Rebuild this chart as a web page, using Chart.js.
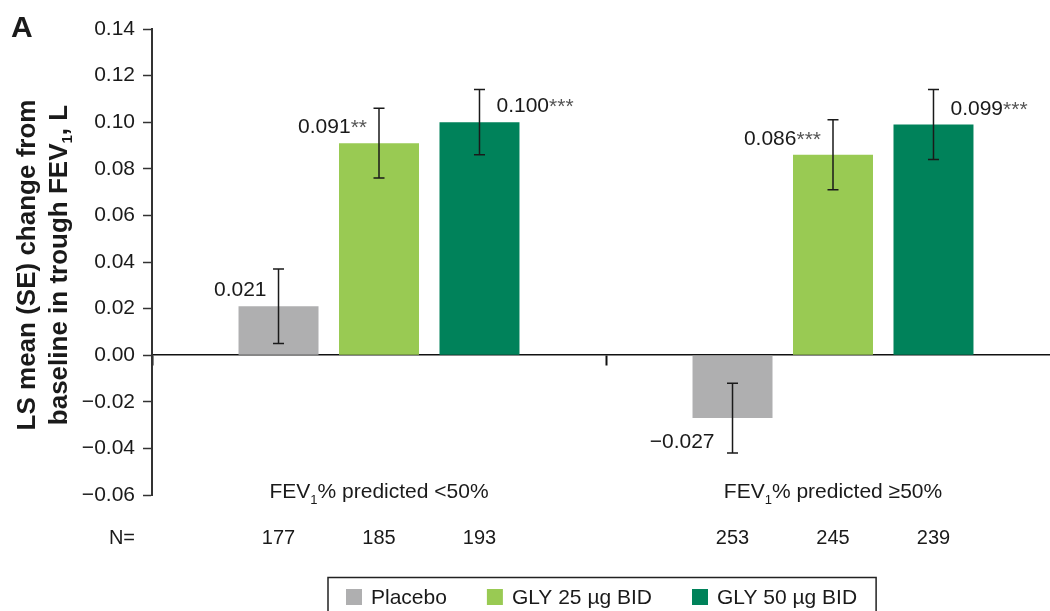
<!DOCTYPE html>
<html>
<head>
<meta charset="utf-8">
<script src="https://cdn.jsdelivr.net/npm/chart.js@4/dist/chart.umd.min.js"></script>
<style>
  html, body { margin: 0; padding: 0; background: #fff; overflow: hidden; width: 1050px; height: 611px; }
  #wrap { position: absolute; left: 0; top: 0; width: 1062px; height: 611px; }
</style>
</head>
<body>
<div id="wrap"><canvas id="c" width="1062" height="611"></canvas></div>
<script>
const FONT = "'Liberation Sans', Arial, Helvetica, sans-serif";
const INK = '#1a1a1a';

// Subgroups: [main text, subscript, rest]
const categories = [['FEV', '1', '% predicted <50%'], ['FEV', '1', '% predicted \u226550%']];

const seriesNames = ['Placebo', 'GLY 25 \u00b5g BID', 'GLY 50 \u00b5g BID'];
const seriesColors = ['#afafb0', '#99ca53', '#00825a'];

// LS mean change from baseline in trough FEV1 (L)
const placebo = [0.021, -0.027];
const gly25 = [0.091, 0.086];
const gly50 = [0.100, 0.099];

// Standard errors
const placeboSE = [0.016, 0.015];
const gly25SE = [0.015, 0.015];
const gly50SE = [0.014, 0.015];

// Significance markers vs placebo
const placeboSig = ['', ''];
const gly25Sig = ['**', '***'];
const gly50Sig = ['***', '***'];

// Patients per arm
const placeboN = [177, 253];
const gly25N = [185, 245];
const gly50N = [193, 239];

const yTickValues = [-0.06, -0.04, -0.02, 0.00, 0.02, 0.04, 0.06, 0.08, 0.10, 0.12, 0.14];

const minus = '\u2212';
const fmtTick = v => (v < -1e-9 ? minus : '') + Math.abs(v).toFixed(2);
const fmtVal = v => (v < 0 ? minus : '') + Math.abs(v).toFixed(3);

function font(size, bold) { return (bold ? 'bold ' : '') + size + 'px ' + FONT; }

// Draws text made of [main, subscript, rest] parts starting at x (baseline y)
function drawSubText(ctx, parts, x, y, size, subSize, subDrop, bold) {
  ctx.textAlign = 'left';
  ctx.textBaseline = 'alphabetic';
  ctx.font = font(size, bold);
  ctx.fillText(parts[0], x, y);
  x += ctx.measureText(parts[0]).width;
  ctx.font = font(subSize, bold);
  ctx.fillText(parts[1], x, y + subDrop);
  x += ctx.measureText(parts[1]).width;
  ctx.font = font(size, bold);
  ctx.fillText(parts[2], x, y);
}
function subTextWidth(ctx, parts, size, subSize, bold) {
  ctx.font = font(size, bold);
  let w = ctx.measureText(parts[0]).width + ctx.measureText(parts[2]).width;
  ctx.font = font(subSize, bold);
  return w + ctx.measureText(parts[1]).width;
}

const decor = {
  id: 'decor',
  afterDatasetsDraw(chart) {
    const ctx = chart.ctx;
    const y = chart.scales.y;
    const last = chart.data.datasets.length - 1;
    chart.data.datasets.forEach((ds, di) => {
      const meta = chart.getDatasetMeta(di);
      meta.data.forEach((bar, i) => {
        const v = ds.data[i];
        const se = ds.se[i];
        const yt = y.getPixelForValue(v + se);
        const yb = y.getPixelForValue(v - se);
        // error bar
        ctx.save();
        ctx.strokeStyle = INK;
        ctx.lineWidth = 1.5;
        ctx.beginPath();
        ctx.moveTo(bar.x, yt); ctx.lineTo(bar.x, yb);
        ctx.moveTo(bar.x - 5.5, yt); ctx.lineTo(bar.x + 5.5, yt);
        ctx.moveTo(bar.x - 5.5, yb); ctx.lineTo(bar.x + 5.5, yb);
        ctx.stroke();
        ctx.restore();

        // value label with significance marker
        const txt = fmtVal(v);
        const sig = ds.sig[i];
        ctx.save();
        ctx.textBaseline = 'alphabetic';
        ctx.textAlign = 'left';
        ctx.font = font(21);
        const wTxt = ctx.measureText(txt).width;
        ctx.font = font(21);
        const wSig = sig ? ctx.measureText(sig).width : 0;
        const base = v >= 0 ? bar.y - 10 : bar.y + 30;
        let x0;
        if (di === last) x0 = bar.x + 17;
        else x0 = bar.x - (v >= 0 ? 12 : 18) - wTxt - wSig;
        ctx.fillStyle = INK;
        ctx.font = font(21);
        ctx.fillText(txt, x0, base);
        if (sig) {
          ctx.fillStyle = '#555';
          ctx.fillText(sig, x0 + wTxt, base + 1);
        }
        ctx.restore();
      });
    });
  },
  afterDraw(chart) {
    const ctx = chart.ctx;
    const xs = chart.scales.x;
    const area = chart.chartArea;
    ctx.save();
    ctx.fillStyle = INK;

    // panel letter
    ctx.font = font(30, true);
    ctx.textAlign = 'left';
    ctx.textBaseline = 'alphabetic';
    ctx.fillText('A', 11, 37);

    // y-axis title (two rotated lines)
    const cy = 265;
    ctx.save();
    ctx.translate(35, cy);
    ctx.rotate(-Math.PI / 2);
    ctx.font = font(26, true);
    ctx.textAlign = 'center';
    ctx.fillText('LS mean (SE) change from', 0, 0);
    ctx.restore();

    ctx.save();
    ctx.translate(67, cy);
    ctx.rotate(-Math.PI / 2);
    const l2 = ['baseline in trough FEV', '1', ', L'];
    const w2 = subTextWidth(ctx, l2, 26, 15, true);
    drawSubText(ctx, l2, -w2 / 2, 0, 26, 15, 5, true);
    ctx.restore();

    // category labels under the plot
    categories.forEach((parts, i) => {
      const cx = xs.getPixelForValue(i);
      const w = subTextWidth(ctx, parts, 21, 13, false);
      drawSubText(ctx, parts, cx - w / 2, 498, 21, 13, 6, false);
    });

    // patient counts row
    ctx.font = font(20);
    ctx.textAlign = 'right';
    ctx.fillText('N=', 135, 544);
    ctx.textAlign = 'center';
    chart.data.datasets.forEach((ds, di) => {
      chart.getDatasetMeta(di).data.forEach((bar, i) => {
        ctx.fillText(String(ds.n[i]), bar.x, 544);
      });
    });

    // legend
    ctx.font = font(21);
    ctx.textAlign = 'left';
    ctx.textBaseline = 'middle';
    let lx = 346;
    const ly = 597;
    chart.data.datasets.forEach((ds, di) => {
      ctx.fillStyle = ds.backgroundColor;
      ctx.fillRect(lx, ly - 8, 16, 16);
      ctx.fillStyle = INK;
      ctx.fillText(ds.label, lx + 25, ly + 1);
      lx += 25 + ctx.measureText(ds.label).width + 40;
    });
    const boxRight = lx - 40 + 19;
    ctx.strokeStyle = '#222';
    ctx.lineWidth = 1.5;
    ctx.strokeRect(328, 577.5, boxRight - 328, 60);

    ctx.restore();
  }
};

const chart = new Chart(document.getElementById('c'), {
  type: 'bar',
  data: {
    labels: categories.map(p => p.join('')),
    datasets: [
      { label: seriesNames[0], data: placebo, se: placeboSE, sig: placeboSig, n: placeboN, backgroundColor: seriesColors[0] },
      { label: seriesNames[1], data: gly25, se: gly25SE, sig: gly25Sig, n: gly25N, backgroundColor: seriesColors[1] },
      { label: seriesNames[2], data: gly50, se: gly50SE, sig: gly50Sig, n: gly50N, backgroundColor: seriesColors[2] }
    ]
  },
  options: {
    responsive: false,
    devicePixelRatio: 1,
    animation: false,
    events: [],
    layout: { padding: { left: 0, right: 2, top: 29, bottom: 116 } },
    datasets: { bar: { categoryPercentage: 0.664, barPercentage: 0.796, borderWidth: 0 } },
    plugins: { legend: { display: false }, tooltip: { enabled: false } },
    scales: {
      x: {
        position: { y: 0 },
        offset: true,
        grid: { offset: true, drawOnChartArea: false, tickLength: 10, tickColor: '#111', tickWidth: 2 },
        ticks: { display: false },
        border: { display: true, color: '#111', width: 1.5 }
      },
      y: {
        min: -0.06,
        max: 0.14,
        afterBuildTicks: s => { s.ticks = yTickValues.map(v => ({ value: v })); },
        afterFit: s => { s.width = 152; },
        ticks: { font: { family: FONT, size: 21 }, color: INK, padding: 8, callback: v => fmtTick(v) },
        grid: { drawOnChartArea: false, tickLength: 9, tickColor: '#333', tickWidth: 1.5 },
        border: { display: true, color: '#333', width: 2 }
      }
    }
  },
  plugins: [decor]
});
</script>
</body>
</html>
